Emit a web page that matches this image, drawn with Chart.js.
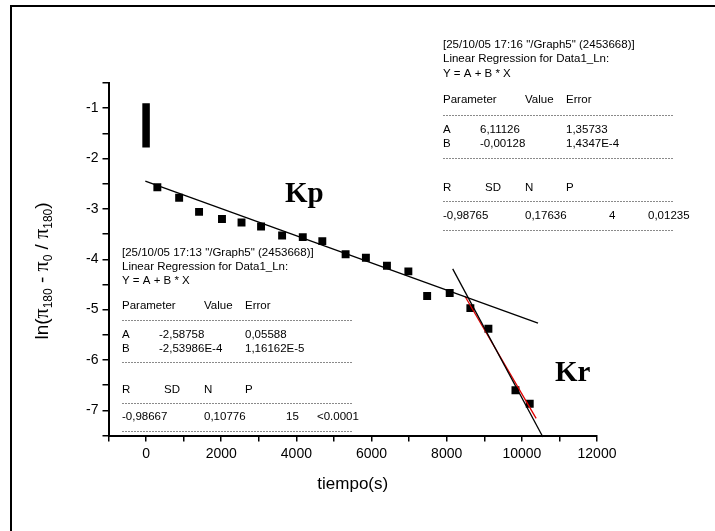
<!DOCTYPE html>
<html>
<head>
<meta charset="utf-8">
<title>ln ratio vs tiempo</title>
<script src="https://cdn.jsdelivr.net/npm/chart.js@4"></script>
<style>
  html, body { margin: 0; padding: 0; background: #fff; }
  #c { display: block; }
</style>
</head>
<body>
<canvas id="c" width="715" height="531"></canvas>
<script>
"use strict";

// ---- Data ----

const tiempo = [300, 880, 1410, 2020, 2540, 3060, 3620, 4170, 4690, 5310,
                5850, 6410, 6980, 7480, 8080, 8630, 9110, 9830, 10210];
const lnRatio = [-2.57, -2.78, -3.06, -3.20, -3.27, -3.35, -3.53, -3.56, -3.64, -3.90,
                 -3.97, -4.13, -4.24, -4.73, -4.67, -4.97, -5.38, -6.60, -6.87];

// stacked points at t = 0 (drawn as one thick bar)
const t0Stack = [0, 0];
const lnT0Stack = [-0.90, -1.78];

// fitted lines, as drawn
const kpFitX = [-20, 10430];
const kpFitY = [-2.45, -5.27];
const krFitX = [8160, 10560];
const krFitY = [-4.19, -7.53];
const redFitX = [8490, 10380];
const redFitY = [-4.74, -7.16];

const xTicks = [0, 2000, 4000, 6000, 8000, 10000, 12000];
const yTicks = [-1, -2, -3, -4, -5, -6, -7];

const xTitle = "tiempo(s)";
// [text, kind]: n = normal, s = subscript, g = greek (Symbol-like serif)
const yTitleParts = [["ln(", "n"], ["π", "g"], ["180", "s"], [" - ", "n"], ["π", "g"],
                     ["0", "s"], [" / ", "n"], ["π", "g"], ["180", "s"], [")", "n"]];

const leftHeader = ['[25/10/05 17:13 "/Graph5" (2453668)]', "Linear Regression for Data1_Ln:", "Y = A + B * X"];
const leftParams = [["A", "-2,58758", "0,05588"], ["B", "-2,53986E-4", "1,16162E-5"]];
const leftStats = ["-0,98667", "0,10776", "15", "<0.0001"];

const rightHeader = ['[25/10/05 17:16 "/Graph5" (2453668)]', "Linear Regression for Data1_Ln:", "Y = A + B * X"];
const rightParams = [["A", "6,11126", "1,35733"], ["B", "-0,00128", "1,4347E-4"]];
const rightStats = ["-0,98765", "0,17636", "4", "0,01235"];

const paramHead = ["Parameter", "Value", "Error"];
const statHead = ["R", "SD", "N", "P"];

// ---- Helpers ----

const SANS = '"Liberation Sans", Arial, sans-serif';
const SERIF = '"Liberation Serif", "Times New Roman", serif';

const pts = (xs, ys) => xs.map((x, i) => ({ x, y: ys[i] }));

function dashRule(ctx, x, y, len) {
  ctx.save();
  ctx.strokeStyle = "#8a8a8a";
  ctx.lineWidth = 1;
  ctx.setLineDash([2, 1]);
  ctx.beginPath();
  ctx.moveTo(x, Math.round(y) + 0.5);
  ctx.lineTo(x + len, Math.round(y) + 0.5);
  ctx.stroke();
  ctx.restore();
}

// Origin-style regression report; vs stretches the rows a little
function drawReport(ctx, x, y, vs, header, params, stats, statCols) {
  const row = (dy) => y + dy * vs;
  ctx.save();
  ctx.font = `11.5px ${SANS}`;
  ctx.fillStyle = "#000";
  ctx.textBaseline = "middle";
  ctx.textAlign = "left";
  header.forEach((t, i) => ctx.fillText(t, x, row(i * 13.7)));
  const pc = [0, 82, 123];
  paramHead.forEach((t, i) => ctx.fillText(t, x + pc[i], row(53)));
  dashRule(ctx, x, row(67), 230);
  params.forEach((r, k) => {
    const cols = [0, 37, 123];
    r.forEach((t, i) => ctx.fillText(t, x + cols[i], row(81.5 + k * 14)));
  });
  dashRule(ctx, x, row(109), 230);
  const sc = [0, 42, 82, 123];
  statHead.forEach((t, i) => ctx.fillText(t, x + sc[i], row(137)));
  dashRule(ctx, x, row(150), 230);
  stats.forEach((t, i) => ctx.fillText(t, x + statCols[i], row(164)));
  dashRule(ctx, x, row(177.5), 230);
  ctx.restore();
}

function drawYTitle(ctx, cx, cy) {
  const fonts = { n: `19px ${SANS}`, s: `12px ${SANS}`, g: `20px ${SERIF}` };
  ctx.save();
  ctx.translate(cx, cy);
  ctx.rotate(-Math.PI / 2);
  ctx.fillStyle = "#000";
  ctx.textBaseline = "alphabetic";
  let w = 0;
  for (const [t, k] of yTitleParts) {
    ctx.font = fonts[k];
    w += ctx.measureText(t).width;
  }
  let x = -w / 2;
  for (const [t, k] of yTitleParts) {
    ctx.font = fonts[k];
    ctx.fillText(t, x, k === "s" ? 10 : 6);
    x += ctx.measureText(t).width;
  }
  ctx.restore();
}

const annotations = {
  id: "annotations",
  afterDraw(chart) {
    const ctx = chart.ctx;
    // figure frame (top and left edges only)
    ctx.save();
    ctx.strokeStyle = "#000";
    ctx.lineWidth = 2;
    ctx.beginPath();
    ctx.moveTo(11, 531);
    ctx.lineTo(11, 6);
    ctx.lineTo(715, 6);
    ctx.stroke();
    ctx.restore();

    drawReport(ctx, 122, 253, 1, leftHeader, leftParams, leftStats, [0, 82, 164, 195]);
    drawReport(ctx, 443, 45, 1.04, rightHeader, rightParams, rightStats, [0, 82, 166, 205]);

    ctx.save();
    ctx.fillStyle = "#000";
    ctx.font = `bold 29px ${SERIF}`;
    ctx.textBaseline = "alphabetic";
    ctx.fillText("Kp", 285, 202);
    ctx.fillText("Kr", 555, 381);

    ctx.font = `17px ${SANS}`;
    ctx.textAlign = "center";
    ctx.textBaseline = "middle";
    const xa = chart.scales.x;
    ctx.fillText(xTitle, (xa.left + xa.right) / 2, 484);
    ctx.restore();

    drawYTitle(ctx, 42, 271);
  },
};

// ---- Chart ----

const line = (data, color, width) => ({
  type: "line",
  data,
  borderColor: color,
  borderWidth: width,
  pointRadius: 0,
  fill: false,
  tension: 0,
  clip: false,
});

new Chart(document.getElementById("c"), {
  type: "scatter",
  data: {
    datasets: [
      line(pts(kpFitX, kpFitY), "#000", 1.3),
      line(pts(krFitX, krFitY), "#000", 1.3),
      line(pts(redFitX, redFitY), "#e00000", 1.3),
      { ...line(pts(t0Stack, lnT0Stack), "#000", 7.5), borderCapStyle: "butt" },
      {
        data: pts(tiempo, lnRatio),
        pointStyle: "rect",
        pointRadius: 5.6,
        pointBorderWidth: 0,
        backgroundColor: "#000",
        borderColor: "#000",
      },
    ],
  },
  options: {
    responsive: false,
    animation: false,
    devicePixelRatio: 1,
    layout: { padding: { left: 0, top: 83, right: 118, bottom: 0 } },
    plugins: { legend: { display: false }, tooltip: { enabled: false } },
    scales: {
      x: {
        type: "linear",
        min: -1000,
        max: 12000,
        afterFit: (s) => { s.height = 95.5; },
        border: { display: true, color: "#000", width: 2 },
        grid: { drawOnChartArea: false, drawTicks: true, tickLength: 6, color: "#000", lineWidth: 1.5 },
        ticks: {
          stepSize: 1000,
          autoSkip: false,
          maxRotation: 0,
          padding: 4,
          color: "#000",
          font: { family: SANS, size: 14 },
          callback: (v) => (xTicks.includes(v) ? String(v) : ""),
        },
      },
      y: {
        type: "linear",
        min: -7.5,
        max: -0.5,
        afterFit: (s) => { s.width = 108.5; },
        border: { display: true, color: "#000", width: 2 },
        grid: { drawOnChartArea: false, drawTicks: true, tickLength: 6, color: "#000", lineWidth: 1.5 },
        ticks: {
          stepSize: 0.5,
          autoSkip: false,
          padding: 4,
          color: "#000",
          font: { family: SANS, size: 14 },
          callback: (v) => (yTicks.includes(v) ? String(v) : ""),
        },
      },
    },
  },
  plugins: [annotations],
});
</script>
</body>
</html>
